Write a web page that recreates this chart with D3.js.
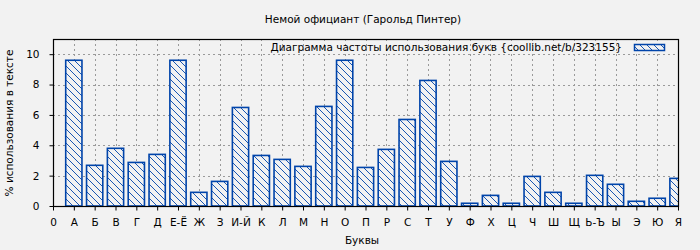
<!DOCTYPE html>
<meta charset="utf-8">
<style>
body { margin: 0; background: #f2f2f2; }
text { font-family: "DejaVu Sans", sans-serif; font-size: 10.5px; fill: #000; }
.grid line { stroke: #9a9a9a; stroke-width: 1px; stroke-dasharray: 2,3; }
.bar { stroke: #0044aa; stroke-width: 1.6px; }
</style>
<body>
<script src="https://d3js.org/d3.v7.min.js"></script>
<script>

// letters (position 0 is just the "0" tick)
var letters = ["А","Б","В","Г","Д","Е-Ё","Ж","З","И-Й","К","Л","М","Н","О","П",
               "Р","С","Т","У","Ф","Х","Ц","Ч","Ш","Щ","Ь-Ъ","Ы","Э","Ю","Я"];
// % usage in text
var values = [9.6, 2.68, 3.8, 2.87, 3.4, 9.6, 0.9, 1.62, 6.49, 3.33, 3.07, 2.61, 6.56, 9.6, 2.54,
              3.73, 5.7, 8.27, 2.94, 0.18, 0.7, 0.18, 1.95, 0.9, 0.18, 2.02, 1.43, 0.31, 0.51, 1.82];
var yTicks = [0, 2, 4, 6, 8, 10];

var title = "Немой официант (Гарольд Пинтер)";
var legendText = "Диаграмма частоты использования букв {coollib.net/b/323155}";

var width = 700, height = 250;
var pLeft = 53, pRight = 678, pTop = 39, pBottom = 206;

var x = d3.scaleLinear().domain([0, letters.length]).range([pLeft, pRight]);
var y = d3.scaleLinear().domain([0, 11]).range([pBottom, pTop]);

var svg = d3.select("body").append("svg")
    .attr("width", width)
    .attr("height", height);

svg.append("rect").attr("width", width).attr("height", height).attr("fill", "#f2f2f2");

var defs = svg.append("defs");
// hatch pattern "\\\"
var pat = defs.append("pattern")
    .attr("id", "hatch")
    .attr("patternUnits", "userSpaceOnUse")
    .attr("width", 7).attr("height", 7);
pat.append("rect").attr("width", 7).attr("height", 7).attr("fill", "#f2f2f2");
pat.append("path")
    .attr("d", "M-1,-1 L8,8 M-1,6 L1,8 M6,-1 L8,1")
    .attr("stroke", "#0044aa").attr("stroke-width", 0.9);

defs.append("clipPath").attr("id", "clip")
  .append("rect")
    .attr("x", pLeft).attr("y", pTop)
    .attr("width", pRight - pLeft).attr("height", pBottom - pTop);

// grid
var grid = svg.append("g").attr("class", "grid");
grid.selectAll(".gy").data(yTicks.slice(1))
  .enter().append("line")
    .attr("x1", pLeft).attr("x2", pRight)
    .attr("y1", function(d) { return Math.round(y(d)) + 0.5; })
    .attr("y2", function(d) { return Math.round(y(d)) + 0.5; });
grid.selectAll(".gx").data(d3.range(1, letters.length))
  .enter().append("line")
    .attr("y1", pTop).attr("y2", pBottom)
    .attr("x1", function(d) { return Math.round(x(d)) + 0.5; })
    .attr("x2", function(d) { return Math.round(x(d)) + 0.5; });

// bars
var bw = 0.78;
svg.append("g").attr("clip-path", "url(#clip)")
  .selectAll(".bar").data(values)
  .enter().append("rect")
    .attr("class", "bar")
    .attr("fill", "url(#hatch)")
    .attr("x", function(d, i) { return x(i + 1 - bw / 2); })
    .attr("width", x(bw) - x(0))
    .attr("y", function(d) { return y(d); })
    .attr("height", function(d) { return y(0) - y(d); });

// border
svg.append("rect")
    .attr("x", pLeft + 0.5).attr("y", pTop + 0.5)
    .attr("width", pRight - pLeft).attr("height", pBottom - pTop)
    .attr("fill", "none").attr("stroke", "#000").attr("stroke-width", 1.2);

// axes
var xAxis = d3.axisBottom(x)
    .tickValues(d3.range(0, letters.length + 1))
    .tickFormat(function(d) { return d === 0 ? "0" : letters[d - 1]; })
    .tickSize(4).tickSizeOuter(0).tickPadding(8);
var gx = svg.append("g")
    .attr("transform", "translate(0," + (pBottom + 0.5) + ")")
    .call(xAxis);
gx.select(".domain").remove();
gx.selectAll("text").style("font-size", "10.5px").style("font-family", "DejaVu Sans");

var yAxis = d3.axisLeft(y)
    .tickValues(yTicks)
    .tickSize(4).tickSizeOuter(0).tickPadding(10);
var gy = svg.append("g")
    .attr("transform", "translate(" + (pLeft + 0.5) + ",0)")
    .call(yAxis);
gy.select(".domain").remove();
gy.selectAll("text").style("font-size", "10.5px").style("font-family", "DejaVu Sans");

// titles
svg.append("text")
    .attr("x", 363).attr("y", 23)
    .attr("text-anchor", "middle")
    .text(title);

svg.append("text")
    .attr("x", 362).attr("y", 244)
    .attr("text-anchor", "middle")
    .text("Буквы");

svg.append("text")
    .attr("transform", "translate(13,123) rotate(-90)")
    .attr("text-anchor", "middle")
    .text("% использования в тексте");

// legend
svg.append("text")
    .attr("x", 622).attr("y", 51)
    .attr("text-anchor", "end")
    .text(legendText);
svg.append("rect")
    .attr("x", 634.5).attr("y", 44.5)
    .attr("width", 30).attr("height", 6)
    .attr("fill", "url(#hatch)")
    .attr("stroke", "#0044aa").attr("stroke-width", 1.5);

</script>
</body>
